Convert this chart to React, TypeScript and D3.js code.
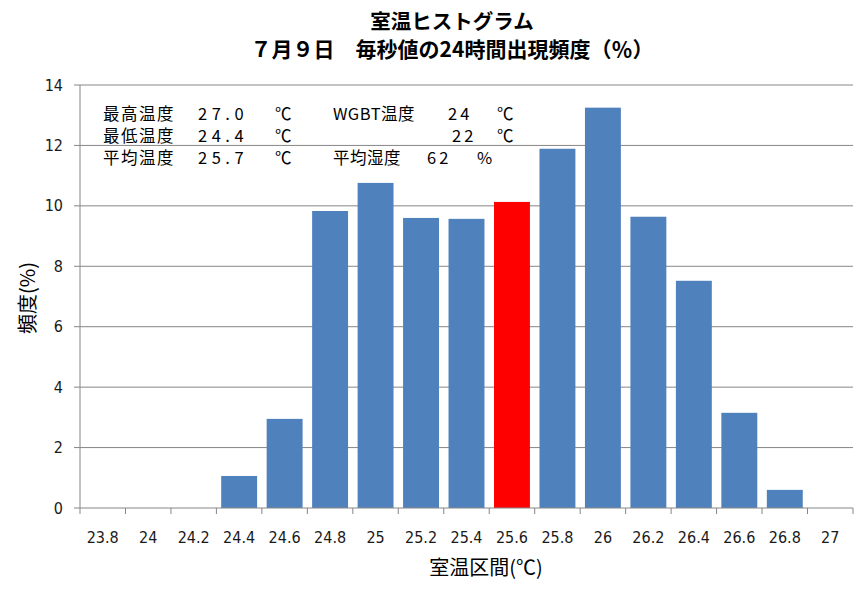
import React from "react";
import * as d3 from "d3";

const categories = ["23.8","24","24.2","24.4","24.6","24.8","25","25.2","25.4","25.6","25.8","26","26.2","26.4","26.6","26.8","27"];
const values = [0,0,0,1.06,2.95,9.83,10.76,9.6,9.57,10.13,11.89,13.25,9.64,7.52,3.15,0.6,0];
const highlight = "25.6";
const yTicks = [0,2,4,6,8,10,12,14];
const titleLines = ["室温ヒストグラム", "７月９日　毎秒値の24時間出現頻度（％）"];
const infoRows = [
  ["最高温度", "27.0", "℃", "WGBT温度", "24", "℃"],
  ["最低温度", "24.4", "℃", "", "22", "℃"],
  ["平均温度", "25.7", "℃", "平均湿度", "62", "%"],
];

const W = 855, H = 590;
const M = { left: 80, right: 853, top: 85, bottom: 508 };

export default function App() {
  const x = d3.scaleBand<string>().domain(categories).range([M.left, M.right]).paddingInner(0.21).paddingOuter(0.105);
  const xEdge = d3.scaleLinear().domain([0, categories.length]).range([M.left, M.right]);
  const y = d3.scaleLinear().domain([0, 14]).range([M.bottom, M.top]);
  const tickFont = "'Liberation Sans Narrow','DejaVu Sans Condensed',sans-serif";
  const jp = "'Noto Sans CJK JP',sans-serif";
  const infoX = [103, 198, 275, 333, 0, 497];
  const valX = [448, 452, 427];
  const rowY = [114.5, 136.5, 158.5];
  return (
    <svg width={W} height={H} style={{ position: "absolute", left: 0, top: 0, background: "#fff" }}>
      <rect width={W} height={H} fill="#fff" />
      {yTicks.filter(t => t > 0).map(t => (
        <line key={t} x1={M.left} x2={M.right} y1={y(t)} y2={y(t)} stroke="#868686" strokeWidth={1} />
      ))}
      {categories.map((c, i) => (
        <rect key={c} x={x(c)} width={x.bandwidth()} y={y(values[i])} height={y(0) - y(values[i])}
          fill={c === highlight ? "#ff0000" : "#4f81bd"} />
      ))}
      <line x1={M.left} x2={M.left} y1={M.top} y2={M.bottom} stroke="#868686" />
      <line x1={M.left} x2={M.right} y1={M.bottom} y2={M.bottom} stroke="#868686" />
      {yTicks.map(t => (
        <g key={t}>
          <line x1={M.left - 6} x2={M.left} y1={y(t)} y2={y(t)} stroke="#868686" />
          <text x={63} y={y(t)} dy="0.35em" textAnchor="end" fontSize={16} fontFamily={tickFont} fill="#1a1a1a">{t}</text>
        </g>
      ))}
      {d3.range(categories.length + 1).map(i => (
        <line key={i} x1={xEdge(i)} x2={xEdge(i)} y1={M.bottom} y2={M.bottom + 6} stroke="#868686" />
      ))}
      {categories.map(c => (
        <text key={c} x={x(c)! + x.bandwidth() / 2} y={537} dy="0.35em" textAnchor="middle" fontSize={16} fontFamily={tickFont} fill="#1a1a1a">{c}</text>
      ))}
      {titleLines.map((t, i) => (
        <text key={i} x={452} y={22 + i * 28} dy="0.35em" textAnchor="middle" fontSize={i === 0 ? 20.5 : 21} fontWeight="bold" fontFamily={jp} fill="#000">{t}</text>
      ))}
      <text x={486} y={568} dy="0.35em" textAnchor="middle" fontSize={20} fontFamily={jp} fill="#000">室温区間(℃)</text>
      <text transform={`translate(28,298) rotate(-90)`} dy="0.35em" textAnchor="middle" fontSize={20} fontFamily={jp} fill="#000">頻度(%)</text>
      {infoRows.map((r, i) => {
        const yy = rowY[i];
        return (
          <g key={i} fontSize={16.5} fontFamily={jp} fill="#000">
            <text x={infoX[0]} y={yy} dy="0.35em" letterSpacing={1.5}>{r[0]}</text>
            <text x={infoX[1]} y={yy} dy="0.35em" letterSpacing={4.5}>{r[1]}</text>
            <text x={infoX[2]} y={yy} dy="0.35em">{r[2]}</text>
            {r[3] && <text x={infoX[3]} y={yy} dy="0.35em" letterSpacing={0.5}>{r[3]}</text>}
            <text x={valX[i]} y={yy} dy="0.35em" letterSpacing={3}>{r[4]}</text>
            <text x={r[5] === "%" ? 477 : infoX[5]} y={yy} dy="0.35em">{r[5]}</text>
          </g>
        );
      })}
    </svg>
  );
}
